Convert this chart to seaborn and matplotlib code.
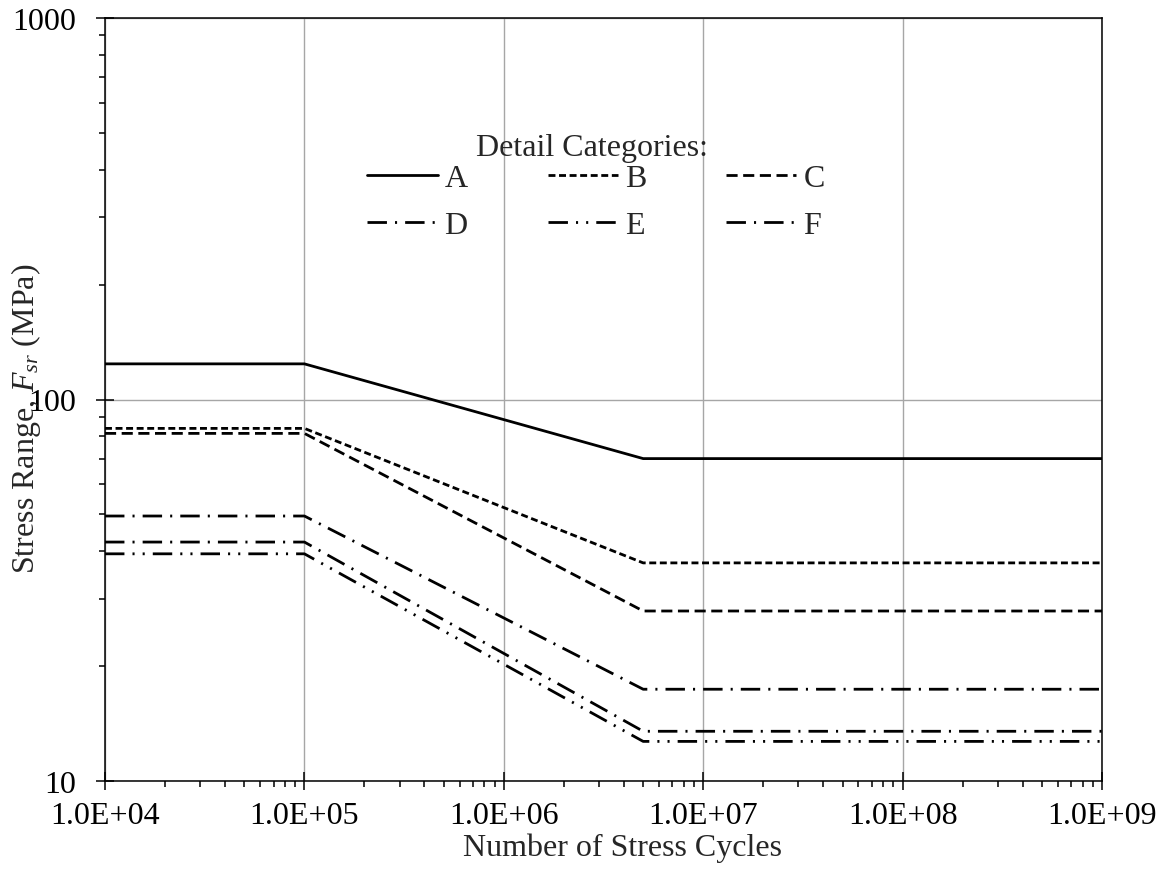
import matplotlib

matplotlib.use("Agg")
import matplotlib.pyplot as plt
import numpy as np
import pandas as pd
import seaborn as sns
from matplotlib.ticker import FixedLocator, LogLocator, NullFormatter

# S-N curves (stress range in MPa)
cycles = [1e4, 1e5, 5e6, 1e9]
cat_a = [124.0, 124.0, 70.0, 70.0]
cat_b = [84.0, 84.0, 37.3, 37.3]
cat_c = [81.5, 81.5, 27.9, 27.9]
cat_d = [49.5, 49.5, 17.4, 17.4]
cat_e = [39.4, 39.4, 12.7, 12.7]
cat_f = [42.3, 42.3, 13.5, 13.5]
categories = ["A", "B", "C", "D", "E", "F"]

x_ticks = [1e4, 1e5, 1e6, 1e7, 1e8, 1e9]
x_tick_labels = ["1.0E+04", "1.0E+05", "1.0E+06", "1.0E+07", "1.0E+08", "1.0E+09"]
y_ticks = [10, 100, 1000]
y_tick_labels = ["10", "100", "1000"]

# dash patterns in points
line_dashes = {
    "A": "",
    "B": (5.0, 2.6),
    "C": (8.0, 4.0),
    "D": (14.0, 5.8, 1.5, 5.8),
    "E": (14.0, 5.8, 1.5, 5.8, 1.5, 5.8),
    "F": (14.0, 5.8, 1.5, 5.8),
}

df = pd.DataFrame({
    "cycles": cycles * len(categories),
    "stress": cat_a + cat_b + cat_c + cat_d + cat_e + cat_f,
    "category": np.repeat(categories, len(cycles)),
})

sns.set_theme(style="ticks")
plt.rcParams["font.family"] = ["Liberation Serif", "DejaVu Serif"]
plt.rcParams["mathtext.fontset"] = "custom"
plt.rcParams["mathtext.rm"] = "Liberation Serif"
plt.rcParams["mathtext.it"] = "Liberation Serif:italic"
plt.rcParams["lines.scale_dashes"] = False

fig = plt.figure(figsize=(11.65, 8.7), dpi=100)
ax = fig.add_axes([105 / 1165, 88 / 870, 997 / 1165, 763 / 870])

sns.lineplot(data=df, x="cycles", y="stress", hue="category", style="category",
             palette=["black"] * len(categories), dashes=line_dashes, linewidth=2.0,
             estimator=None, sort=False, legend=False, ax=ax)

ax.set_xscale("log")
ax.set_yscale("log")
ax.set_xlim(x_ticks[0], x_ticks[-1])
ax.set_ylim(y_ticks[0], y_ticks[-1])
ax.xaxis.set_major_locator(FixedLocator(x_ticks))
ax.set_xticklabels(x_tick_labels)
ax.yaxis.set_major_locator(FixedLocator(y_ticks))
ax.set_yticklabels(y_tick_labels)
ax.xaxis.set_minor_locator(LogLocator(base=10, subs=np.arange(2, 10)))
ax.yaxis.set_minor_locator(LogLocator(base=10, subs=np.arange(2, 10)))
ax.xaxis.set_minor_formatter(NullFormatter())
ax.yaxis.set_minor_formatter(NullFormatter())

ax.grid(True, which="major", color="#a6a6a6", linewidth=1.0)
ax.set_axisbelow(True)
for spine in ax.spines.values():
    spine.set_color("black")
    spine.set_linewidth(1.1)

ax.tick_params(which="major", direction="inout", length=13, width=1.1,
               labelsize=23, colors="black")
ax.tick_params(axis="y", which="major", pad=14)
ax.tick_params(axis="x", which="major", pad=8)
ax.tick_params(which="minor", direction="out", length=4.5, width=1.1, colors="black")

ax.set_xlabel("Number of Stress Cycles", fontsize=23)
ax.set_ylabel(r"Stress Range, $F_{sr}$ (MPa)", fontsize=23)
ax.xaxis.set_label_coords(0.519, -0.068)
ax.yaxis.set_label_coords(-0.062, 0.476)

# legend rows A B C / D E F, title as a separate text box above them
handles = ax.lines[:len(categories)]
order = [0, 3, 1, 4, 2, 5]
ax.legend([handles[i] for i in order], [categories[i] for i in order], ncol=3,
          frameon=False, fontsize=23, handlelength=2.2, handletextpad=0.22,
          columnspacing=2.5, labelspacing=0.57,
          loc="lower center", bbox_transform=fig.transFigure,
          bbox_to_anchor=(596 / 1165, 1 - 270 / 870))
fig.text(592 / 1165, 1 - 149 / 870, "Detail Categories:", ha="center", va="center",
         fontsize=23)

fig.savefig("out.png", dpi=100)
plt.close(fig)
